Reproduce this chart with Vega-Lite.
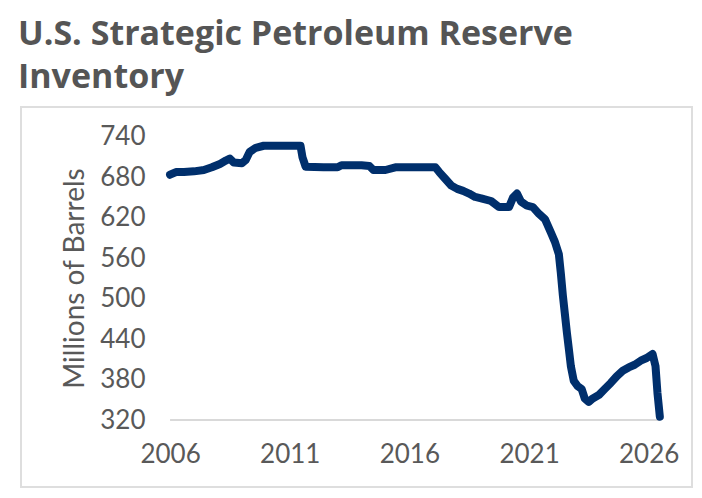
{
  "$schema": "https://vega.github.io/schema/vega-lite/v6.json",
  "width": 671,
  "height": 380,
  "autosize": {"type": "none"},
  "padding": {"left": 21, "top": 107, "right": 10, "bottom": 11},
  "background": "white",
  "title": {
    "text": ["U.S. Strategic Petroleum Reserve", "Inventory"],
    "anchor": "start",
    "frame": "group",
    "dx": -3,
    "offset": 12,
    "font": "Open Sans",
    "fontSize": 34,
    "fontWeight": "bold",
    "color": "#555555",
    "lineHeight": 43
  },
  "config": {
    "view": {"stroke": "#dedede", "strokeWidth": 2},
    "axis": {
      "labelFont": "Lato",
      "titleFont": "Lato",
      "labelColor": "#595959",
      "titleColor": "#595959",
      "grid": false,
      "domain": false,
      "ticks": false
    }
  },
  "layer": [
    {
      "data": {"values": [{"start": "2006-01-01", "end": "2026-06-20", "level": 320}]},
      "mark": {"type": "rule", "color": "#d9d9d9", "strokeWidth": 2},
      "encoding": {
        "x": {"field": "start", "type": "temporal"},
        "x2": {"field": "end"},
        "y": {"field": "level", "type": "quantitative"}
      }
    },
    {
      "data": {
        "values": [
          {"date": "2006-01-01", "inventory": 684},
          {"date": "2006-04-01", "inventory": 688},
          {"date": "2006-08-01", "inventory": 688},
          {"date": "2007-01-01", "inventory": 689},
          {"date": "2007-06-01", "inventory": 691},
          {"date": "2007-10-01", "inventory": 695},
          {"date": "2008-02-01", "inventory": 700},
          {"date": "2008-05-01", "inventory": 705},
          {"date": "2008-07-01", "inventory": 708},
          {"date": "2008-09-01", "inventory": 702},
          {"date": "2009-01-01", "inventory": 701},
          {"date": "2009-03-01", "inventory": 706},
          {"date": "2009-05-01", "inventory": 718},
          {"date": "2009-08-01", "inventory": 724},
          {"date": "2009-12-01", "inventory": 727},
          {"date": "2010-06-01", "inventory": 727},
          {"date": "2011-01-01", "inventory": 727},
          {"date": "2011-06-15", "inventory": 727},
          {"date": "2011-07-15", "inventory": 710},
          {"date": "2011-09-01", "inventory": 696},
          {"date": "2012-06-01", "inventory": 695},
          {"date": "2013-01-01", "inventory": 695},
          {"date": "2013-03-01", "inventory": 698},
          {"date": "2014-01-01", "inventory": 698},
          {"date": "2014-05-01", "inventory": 697},
          {"date": "2014-07-01", "inventory": 691},
          {"date": "2015-01-01", "inventory": 691},
          {"date": "2015-06-01", "inventory": 695},
          {"date": "2016-06-01", "inventory": 695},
          {"date": "2017-02-01", "inventory": 695},
          {"date": "2017-04-01", "inventory": 688},
          {"date": "2017-07-01", "inventory": 678},
          {"date": "2017-10-01", "inventory": 668},
          {"date": "2018-01-01", "inventory": 663},
          {"date": "2018-04-01", "inventory": 660},
          {"date": "2018-07-01", "inventory": 656},
          {"date": "2018-10-01", "inventory": 651},
          {"date": "2019-01-01", "inventory": 649},
          {"date": "2019-06-01", "inventory": 645},
          {"date": "2019-10-01", "inventory": 636},
          {"date": "2020-03-01", "inventory": 636},
          {"date": "2020-05-01", "inventory": 650},
          {"date": "2020-07-01", "inventory": 656},
          {"date": "2020-09-01", "inventory": 644},
          {"date": "2020-12-01", "inventory": 638},
          {"date": "2021-03-01", "inventory": 636},
          {"date": "2021-06-01", "inventory": 626},
          {"date": "2021-09-01", "inventory": 618},
          {"date": "2021-12-01", "inventory": 598},
          {"date": "2022-02-01", "inventory": 584},
          {"date": "2022-04-01", "inventory": 566},
          {"date": "2022-05-01", "inventory": 538},
          {"date": "2022-06-01", "inventory": 505},
          {"date": "2022-07-01", "inventory": 478},
          {"date": "2022-08-01", "inventory": 450},
          {"date": "2022-09-01", "inventory": 425},
          {"date": "2022-10-01", "inventory": 400},
          {"date": "2022-11-15", "inventory": 378},
          {"date": "2023-01-15", "inventory": 370},
          {"date": "2023-03-15", "inventory": 366},
          {"date": "2023-05-01", "inventory": 352},
          {"date": "2023-07-01", "inventory": 347},
          {"date": "2023-09-01", "inventory": 352},
          {"date": "2023-12-01", "inventory": 357},
          {"date": "2024-03-01", "inventory": 366},
          {"date": "2024-06-01", "inventory": 375},
          {"date": "2024-09-01", "inventory": 385},
          {"date": "2024-12-01", "inventory": 393},
          {"date": "2025-03-01", "inventory": 398},
          {"date": "2025-06-01", "inventory": 402},
          {"date": "2025-09-01", "inventory": 408},
          {"date": "2025-12-01", "inventory": 412},
          {"date": "2026-03-01", "inventory": 418},
          {"date": "2026-04-15", "inventory": 400},
          {"date": "2026-05-15", "inventory": 360},
          {"date": "2026-06-20", "inventory": 325}
        ]
      },
      "mark": {"type": "line", "color": "#002F6C", "strokeWidth": 8, "strokeCap": "round", "strokeJoin": "round"},
      "encoding": {
        "x": {
          "field": "date",
          "type": "temporal",
          "scale": {
            "type": "utc",
            "domain": [
              {"year": 1999, "month": 10, "date": 10, "utc": true},
              {"year": 2027, "month": 10, "date": 24, "utc": true}
            ],
            "nice": false
          },
          "axis": {
            "title": null,
            "offset": -67,
            "values": [
              {"year": 2006, "month": 1, "date": 1, "utc": true},
              {"year": 2011, "month": 1, "date": 1, "utc": true},
              {"year": 2016, "month": 1, "date": 1, "utc": true},
              {"year": 2021, "month": 1, "date": 1, "utc": true},
              {"year": 2026, "month": 1, "date": 1, "utc": true}
            ],
            "format": "%Y",
            "formatType": "utc",
            "labelFontSize": 26,
            "labelPadding": 21,
            "labelFlush": false,
            "labelOverlap": false
          }
        },
        "y": {
          "field": "inventory",
          "type": "quantitative",
          "scale": {"domain": [220.6, 784.5], "nice": false, "zero": false},
          "axis": {
            "title": "Millions of Barrels",
            "titleFontSize": 28,
            "titleFontWeight": "normal",
            "titlePadding": 10,
            "titleY": 171,
            "offset": -149,
            "values": [320, 380, 440, 500, 560, 620, 680, 740],
            "labelFontSize": 26,
            "labelPadding": 25,
            "labelFlush": false,
            "labelOverlap": false
          }
        }
      }
    }
  ]
}
